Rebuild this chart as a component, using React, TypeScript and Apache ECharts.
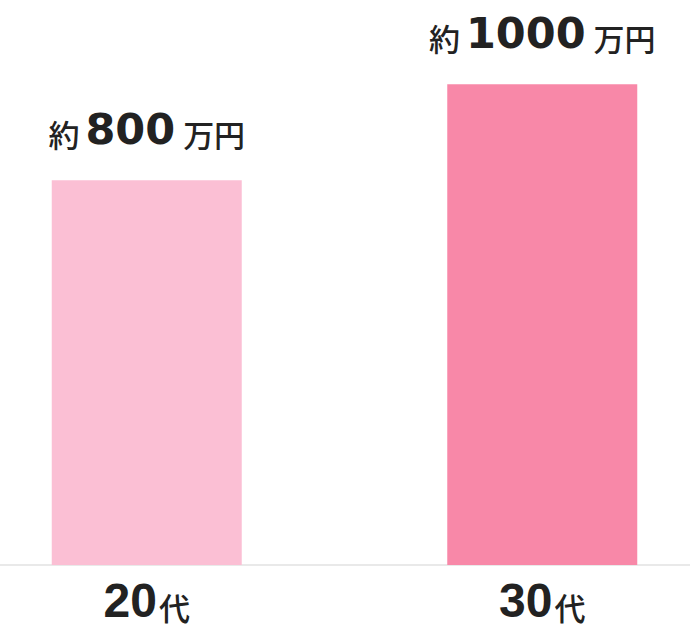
import { useEffect, useRef } from "react";
import * as echarts from "echarts";

const categories = ["20", "30"];
const categorySuffix = "代";
const incomeValues = [800, 1000];
const labelPrefix = "約";
const labelSuffix = "万円";
const barColors = ["#fbbfd4", "#f888a8"];

const CJK = '"Noto Sans CJK JP", "Noto Sans", sans-serif';

export default function App() {
  const ref = useRef<HTMLDivElement | null>(null);

  useEffect(() => {
    document.body.style.margin = "0";
    if (!ref.current) return;
    const chart = echarts.init(ref.current, null, { renderer: "svg" });

    chart.setOption({
      animation: false,
      backgroundColor: "#ffffff",
      grid: { top: 0, bottom: 66, left: 0, right: 0, containLabel: false },
      xAxis: {
        type: "category",
        data: categories,
        axisTick: { show: false },
        axisLine: { lineStyle: { color: "#e2e2e2", width: 1.5 } },
        axisLabel: {
          margin: 11,
          formatter: (v: string) => `{num|${v}}{unit|${categorySuffix}}`,
          rich: {
            num: {
              fontFamily: '"Liberation Sans", Arial, sans-serif',
              fontWeight: "bold",
              fontSize: 48,
              color: "#222222",
              verticalAlign: "bottom",
              lineHeight: 48,
            },
            unit: {
              fontFamily: CJK,
              fontWeight: 500,
              fontSize: 31,
              color: "#222222",
              verticalAlign: "bottom",
              lineHeight: 48,
              padding: [0, 0, 2, 2],
            },
          },
        },
      },
      yAxis: {
        type: "value",
        min: 0,
        max: 1175,
        show: false,
        splitLine: { show: false },
      },
      series: [
        {
          type: "bar",
          barWidth: 190,
          data: incomeValues.map((v, i) => ({
            value: v,
            itemStyle: { color: barColors[i] },
          })),
          label: {
            show: true,
            position: "top",
            distance: 30,
            formatter: (p: { value: number }) =>
              `{a|${labelPrefix}}{n|${p.value}}{b|${labelSuffix}}`,
            rich: {
              a: {
                fontFamily: CJK,
                fontWeight: 500,
                fontSize: 31,
                color: "#222222",
                verticalAlign: "bottom",
                lineHeight: 44,
                padding: [0, 0, 1, 0],
              },
              n: {
                fontFamily: '"DejaVu Sans", sans-serif',
                fontWeight: "bold",
                fontSize: 43,
                color: "#222222",
                verticalAlign: "bottom",
                lineHeight: 44,
                padding: [0, 8, 0, 6],
              },
              b: {
                fontFamily: CJK,
                fontWeight: 500,
                fontSize: 31,
                color: "#222222",
                verticalAlign: "bottom",
                lineHeight: 44,
                padding: [0, 0, 1, 0],
              },
            },
          },
        },
      ],
    });

    return () => {
      chart.dispose();
    };
  }, []);

  return (
    <div style={{ width: 690, height: 631, overflow: "hidden", position: "relative" }}>
      <div ref={ref} style={{ position: "absolute", left: -51, top: 0, width: 791, height: 631 }} />
    </div>
  );
}
